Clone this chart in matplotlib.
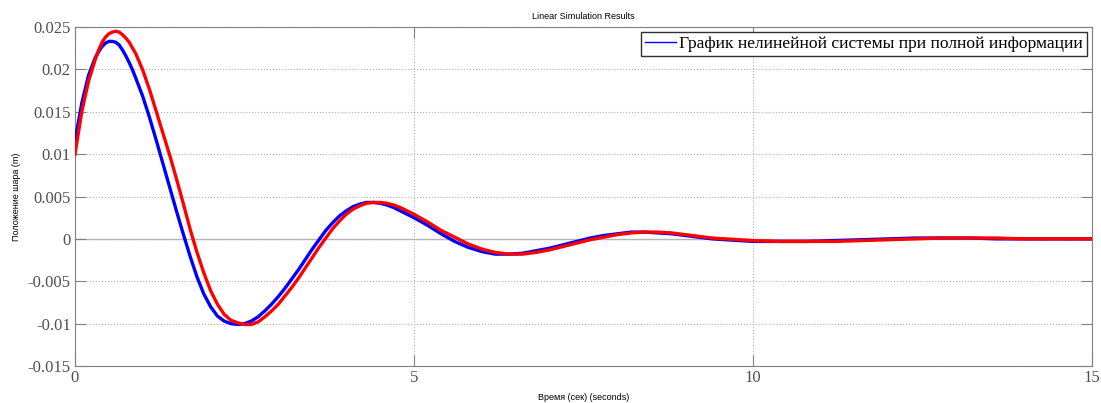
import numpy as np
import matplotlib
matplotlib.use('Agg')
import matplotlib.pyplot as plt

plt.rcParams['axes.unicode_minus'] = False

# time samples (s) and ball position (m)
t_red = [0.0, 0.1, 0.2, 0.3, 0.35, 0.4, 0.45, 0.5, 0.55, 0.6, 0.65, 0.7, 0.75, 0.8, 0.85, 0.9,
         1.0, 1.1, 1.2, 1.3, 1.4, 1.5, 1.6, 1.7, 1.8, 1.9,
         2.0, 2.1, 2.2, 2.3, 2.4, 2.5, 2.6, 2.7, 2.8, 2.9,
         3.0, 3.1, 3.2, 3.3, 3.4, 3.5, 3.6, 3.7, 3.8, 3.9,
         4.0, 4.1, 4.2, 4.3, 4.4, 4.5, 4.6, 4.7, 4.8, 4.9,
         5.0, 5.2, 5.4, 5.6, 5.8, 6.0, 6.2, 6.4, 6.6, 6.8,
         7.0, 7.2, 7.4, 7.6, 7.8, 8.0, 8.2, 8.4, 8.6, 8.8,
         9.0, 9.2, 9.4, 9.6, 9.8, 10.0, 10.4, 10.8, 11.2, 11.6,
         12.0, 12.4, 12.8, 13.2, 13.6, 14.0, 14.5, 15.0]
y_red = [0.0100, 0.0150, 0.0186, 0.0212, 0.0223, 0.0232, 0.0238, 0.0242, 0.0244, 0.0245,
         0.0244, 0.0241, 0.0237, 0.0232, 0.0225, 0.0218,
         0.0199, 0.0176, 0.0150, 0.0124, 0.0098, 0.0070, 0.0041, 0.0011, -0.0016, -0.0040,
         -0.0061, -0.0077, -0.0089, -0.0096, -0.0099, -0.0101, -0.0101, -0.0098, -0.0092, -0.0085,
         -0.0077, -0.0067, -0.0057, -0.0046, -0.0034, -0.0022, -0.0010, 0.0001, 0.0012, 0.0021,
         0.0029, 0.0035, 0.0039, 0.0042, 0.0043, 0.0043, 0.0042, 0.0040, 0.0037, 0.0033,
         0.0029, 0.0020, 0.0010, 0.0002, -0.0006, -0.0012, -0.0016, -0.0018, -0.0018, -0.0016,
         -0.0013, -0.0009, -0.0005, -0.0001, 0.0002, 0.0005, 0.0007, 0.0008, 0.0008, 0.0007,
         0.0005, 0.0003, 0.0001, 0.0000, -0.0001, -0.0002, -0.0003, -0.0003, -0.0003, -0.0002,
         -0.0001, 0.0000, 0.0001, 0.0001, 0.0001, 0.0000, 0.0000, 0.0000]

t_blue = t_red
y_blue = [0.0115, 0.0160, 0.0193, 0.0214, 0.0221, 0.0227, 0.0231, 0.0233, 0.0233, 0.0232,
          0.0229, 0.0223, 0.0216, 0.0208, 0.0199, 0.0189,
          0.0168, 0.0143, 0.0116, 0.0088, 0.0060, 0.0032, 0.0005, -0.0021, -0.0045, -0.0065,
          -0.0080, -0.0091, -0.0097, -0.0100, -0.0101, -0.0100, -0.0097, -0.0092, -0.0085, -0.0077,
          -0.0068, -0.0058, -0.0047, -0.0036, -0.0024, -0.0012, -0.0001, 0.0010, 0.0019, 0.0027,
          0.0033, 0.0038, 0.0041, 0.0043, 0.0043, 0.0042, 0.0040, 0.0037, 0.0033, 0.0029,
          0.0025, 0.0016, 0.0006, -0.0003, -0.0010, -0.0015, -0.0018, -0.0018, -0.0017, -0.0014,
          -0.0011, -0.0007, -0.0003, 0.0001, 0.0004, 0.0006, 0.0008, 0.0008, 0.0007, 0.0006,
          0.0004, 0.0002, 0.0000, -0.0001, -0.0002, -0.0003, -0.0003, -0.0003, -0.0002, -0.0001,
          0.0000, 0.0001, 0.0001, 0.0001, 0.0000, 0.0000, 0.0000, 0.0000]

xticks = [0, 5, 10, 15]
yticks = [-0.015, -0.01, -0.005, 0, 0.005, 0.01, 0.015, 0.02, 0.025]
ytick_labels = ['-0.015', '-0.01', '-0.005', '0', '0.005', '0.01', '0.015', '0.02', '0.025']
legend_label = 'График нелинейной системы при полной информации'

fig = plt.figure(figsize=(11.01, 4.03), dpi=100)
ax = fig.add_axes([0.0681, 0.0918, 0.9237, 0.8412])

edge = '#808080'
ax.grid(True, linestyle=':', color='#b0b0b0', linewidth=0.8)
ax.axhline(0, color='#b8b8b8', linewidth=1.0, zorder=1.5)

ax.plot(t_blue, y_blue, color='#0000ff', linewidth=2.4, label=legend_label, zorder=3)
ax.plot(t_red, y_red, color='#ff0000', linewidth=2.4, zorder=4)

ax.set_xlim(0, 15)
ax.set_ylim(-0.015, 0.025)
ax.set_xticks(xticks)
ax.set_xticklabels([str(v) for v in xticks])
ax.set_yticks(yticks)
ax.set_yticklabels(ytick_labels)

ax.tick_params(axis='both', which='both', direction='in', length=8, width=0.8,
               color=edge, labelcolor='#505050', labelsize=12,
               top=True, right=True, pad=3)
for lab in ax.get_xticklabels() + ax.get_yticklabels():
    lab.set_family('Liberation Serif')
for s in ax.spines.values():
    s.set_color(edge)
    s.set_linewidth(0.8)

ax.set_title('Linear Simulation Results', fontsize=6.5, family='Liberation Sans', pad=6)
ax.set_xlabel('Время (сек) (seconds)', fontsize=6.5, family='Liberation Sans', labelpad=5)
ax.set_ylabel('Положение шара (m)', fontsize=6.5, family='Liberation Sans', labelpad=5)

leg = ax.legend(loc='upper right', prop={'family': 'Liberation Serif', 'size': 12.6},
                fancybox=False, framealpha=1, edgecolor='#303030', handlelength=1.8,
                handletextpad=0.15, borderpad=0.22, borderaxespad=0.3)
leg.get_frame().set_linewidth(1.0)
for h in leg.get_lines():
    h.set_linewidth(1.0)

fig.savefig('out.png', dpi=100)
